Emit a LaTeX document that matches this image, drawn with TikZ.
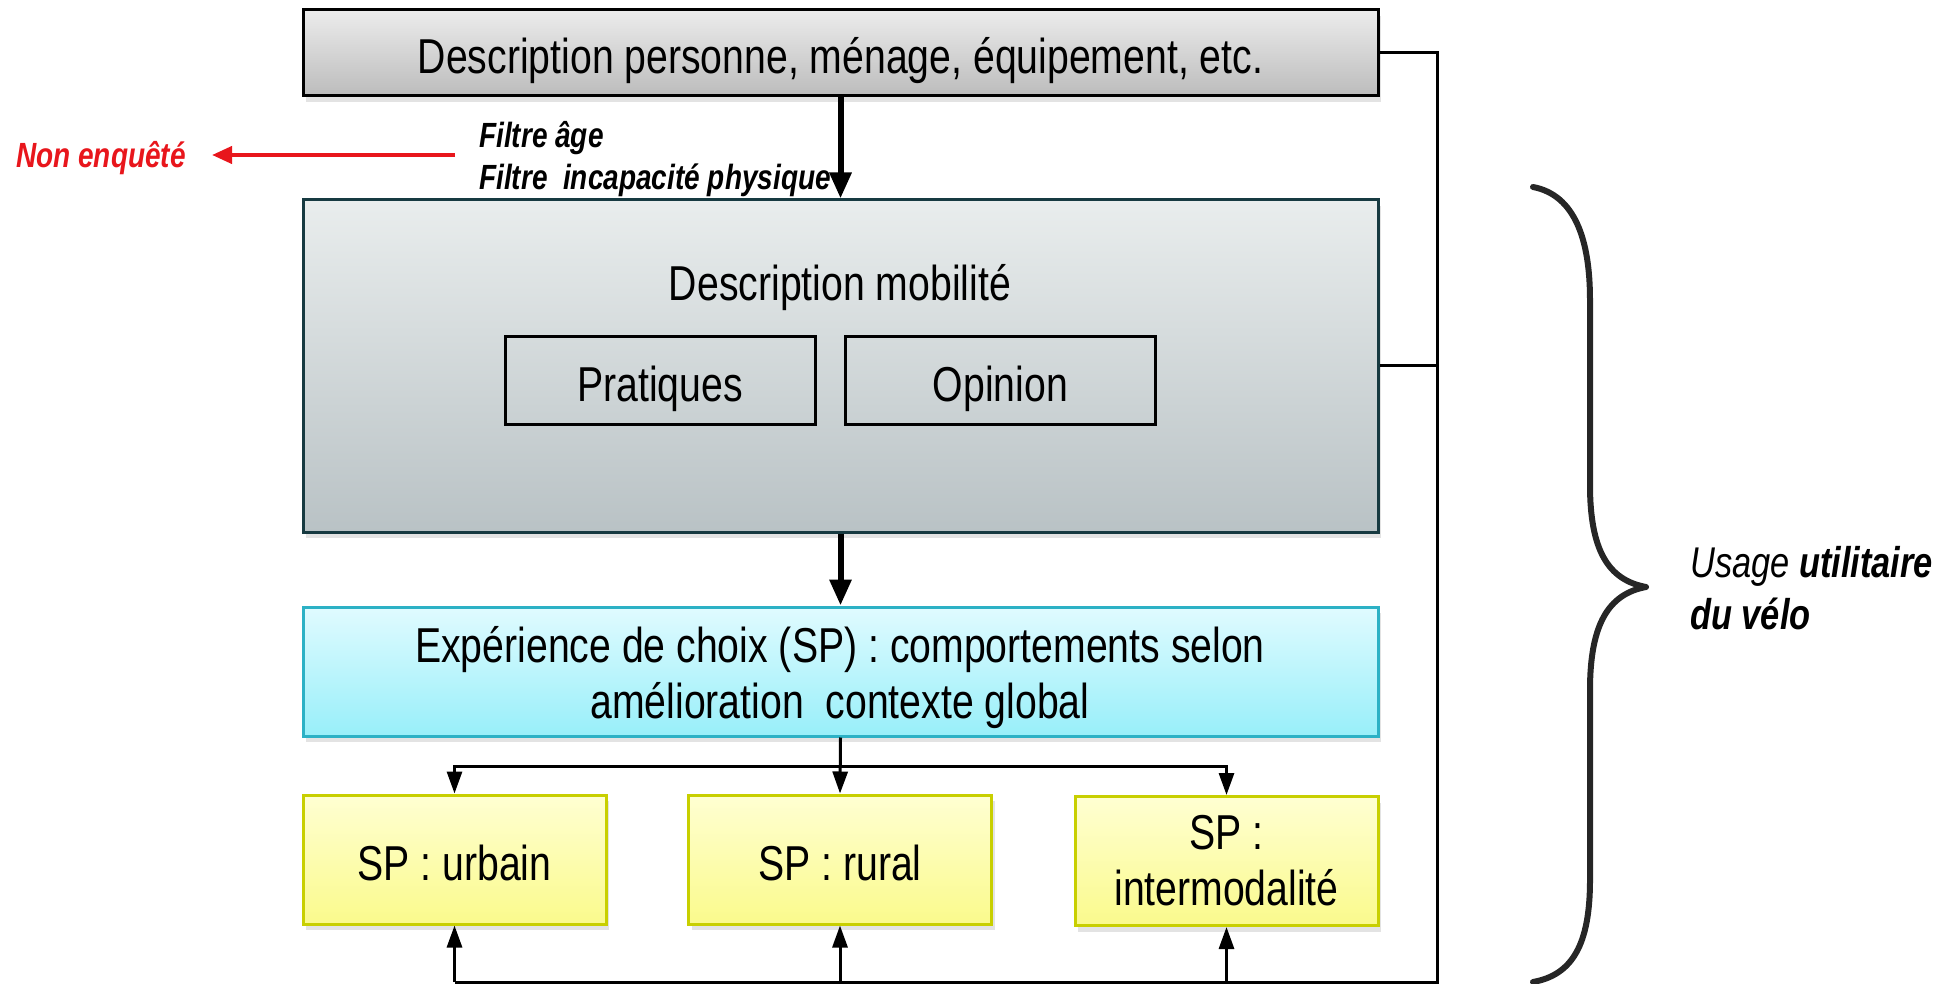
\documentclass[tikz,border=0pt]{standalone}
\usepackage{fontspec}
\setmainfont{Liberation Sans}[FakeStretch=0.8]
\usetikzlibrary{arrows.meta,shadows}
\definecolor{redc}{RGB}{232,22,28}
\definecolor{mobborder}{RGB}{23,58,65}
\definecolor{cyanborder}{RGB}{44,177,197}
\definecolor{yelborder}{RGB}{200,207,0}
\definecolor{bracec}{RGB}{38,38,38}
\begin{document}
\begin{tikzpicture}[x=1pt,y=-1pt,
  bigfont/.style={font=\fontsize{49pt}{56pt}\selectfont},
  oneline/.style={text height=51.5pt,text depth=9.8pt},
  shad/.style={drop shadow={opacity=0.22,shadow xshift=3pt,shadow yshift=-6pt}},
  topbox/.style={draw=black,line width=3pt,top color={rgb,255:red,236;green,236;blue,236},bottom color={rgb,255:red,188;green,188;blue,188},shad,inner sep=0pt,align=center,bigfont,oneline},
  mobbox/.style={draw=mobborder,line width=3pt,top color={rgb,255:red,233;green,237;blue,237},bottom color={rgb,255:red,185;green,194;blue,197},shad,inner sep=0pt},
  plainbox/.style={draw=black,line width=3pt,inner sep=0pt,bigfont,oneline},
  spbox/.style={draw=cyanborder,line width=3pt,top color={rgb,255:red,224;green,251;blue,255},bottom color={rgb,255:red,152;green,239;blue,249},shad,inner sep=0pt},
  yelbox/.style={draw=yelborder,line width=3pt,top color={rgb,255:red,255;green,255;blue,210},bottom color={rgb,255:red,250;green,250;blue,140},shad,inner sep=0pt,align=center,minimum width=303pt,minimum height=129pt,bigfont},
  txt/.style={inner sep=0pt,align=center,bigfont},
  filt/.style={inner sep=0pt,anchor=west,font=\fontsize{35pt}{42pt}\selectfont\bfseries\itshape},
  thick arrow/.style={line width=6pt,-{Triangle[length=26pt,width=21pt]}},
  thin arrow/.style={line width=3pt,-{Triangle[length=22pt,width=15pt]}},
  conn/.style={line width=3pt},
]
\useasboundingbox (0,0) rectangle (1955,984);

% boxes
\node[topbox,minimum width=1075pt,minimum height=86pt] (top) at (840.5,53) {Description personne, ménage, équipement, etc.};
\node[mobbox,minimum width=1075pt,minimum height=332pt] (mob) at (840.5,366) {};
\node[txt,oneline] (mobt) at (840,280) {Description mobilité};
\node[plainbox,minimum width=310pt,minimum height=87pt] (prat) at (660,380.5) {Pratiques};
\node[plainbox,minimum width=310pt,minimum height=87pt] (opin) at (1000.5,380.5) {Opinion};
\node[spbox,minimum width=1075pt,minimum height=129pt] (sp) at (840.5,671.5) {};
\node[txt] (spt) at (840,678) {Expérience de choix (SP) : comportements selon\\amélioration\ \ contexte global};
\node[yelbox,oneline] (urb) at (454.5,859.5) {SP : urbain};
\node[yelbox,oneline] (rur) at (840,859.5) {SP : rural};
\node[yelbox] (int) at (1226.5,861) {SP :\\intermodalité};

% filter texts
\node[filt] (f1) at (479,138) {Filtre âge};
\node[filt] (f2) at (479,180) {Filtre\ \ incapacité physique};
\node[filt,text=redc] (non) at (16,158) {Non enquêté};
\coordinate (rs) at (455,155);
\coordinate (re) at (212,155);
\draw[redc,line width=4pt,-{Triangle[length=20pt,width=17pt]}] (rs) -- (re);

% main arrows
\draw[thick arrow] (top.south) -- (mob.north);
\draw[thick arrow] (mob.south) -- (sp.north);

% fan out
\coordinate (fan) at (840,766);
\draw[thin arrow] (sp.south) -- (rur.north);
\draw[thin arrow] (fan) -| (urb.north);
\draw[thin arrow] (fan) -| (int.north);

% right loop
\coordinate (rtop) at (1437,53);
\coordinate (rbot) at (1437,982);
\draw[conn] (top.east) -- (rtop) -- (rbot) -- (urb.south |- rbot);
\draw[conn] (mob.east) -- (mob.east -| rtop);
\draw[thin arrow] (urb.south |- rbot) -- (urb.south);
\draw[thin arrow] (rur.south |- rbot) -- (rur.south);
\draw[thin arrow] (int.south |- rbot) -- (int.south);

% brace
\coordinate (bt) at (1533,187);
\coordinate (bm) at (1646,587);
\coordinate (bb) at (1533,982);
\draw[bracec,line width=6pt,line cap=round,line join=round] (bt) .. controls (1575,195) and (1590,240) .. (1590,300) -- (1590,485) .. controls (1590,550) and (1608,580) .. (bm) .. controls (1608,594) and (1590,625) .. (1590,690) -- (1590,880) .. controls (1590,945) and (1572,975) .. (bb);

% label
\node[inner sep=0pt,anchor=west,font=\fontsize{43pt}{50pt}\selectfont\itshape] (us1) at (1690,566) {Usage \textbf{utilitaire}};
\node[inner sep=0pt,anchor=west,font=\fontsize{43pt}{50pt}\selectfont\itshape\bfseries] (us2) at (1690,614) {du vélo};
\end{tikzpicture}
\end{document}
